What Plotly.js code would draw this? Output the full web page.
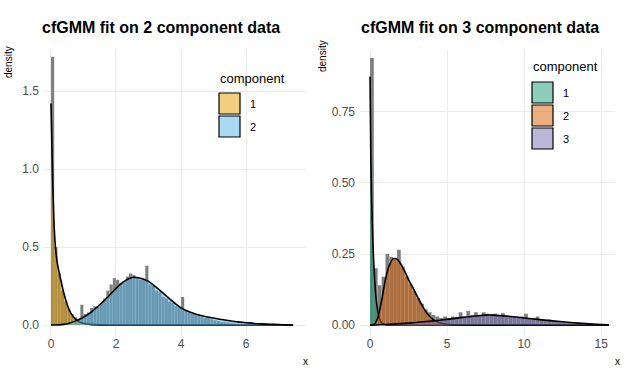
<!DOCTYPE html>
<html>
<head>
<meta charset="utf-8">
<script src="https://cdn.plot.ly/plotly-3.0.1.min.js"></script>
<style>
  html, body { margin: 0; padding: 0; background: #fff; }
  #plot { width: 624px; height: 384px; }
</style>
</head>
<body>
<div id="plot"></div>
<script>
// ---- left panel: 2 component data ----
var hist2X = [0.05,0.15,0.25,0.35,0.45,0.55,0.65,0.75,0.85,0.95,1.05,1.15,1.25,1.35,1.45,1.55,1.65,1.75,1.85,1.95,
  2.05,2.15,2.25,2.35,2.45,2.55,2.65,2.75,2.85,2.95,3.05,3.15,3.25,3.35,3.45,3.55,3.65,3.75,3.85,3.95,
  4.05,4.15,4.25,4.35,4.45,4.55,4.65,4.75,4.85,4.95,5.05,5.15,5.25,5.35,5.45,5.55,5.65,5.75,5.85,5.95,6.05,6.15];
var hist2Y = [1.72,0.50,0.33,0.22,0.15,0.10,0.07,0.05,0.04,0.13,0.07,0.08,0.11,0.12,0.12,0.14,0.17,0.22,0.26,0.30,
  0.29,0.27,0.28,0.31,0.33,0.32,0.30,0.29,0.29,0.38,0.26,0.25,0.22,0.21,0.18,0.17,0.15,0.14,0.12,0.11,
  0.18,0.09,0.08,0.07,0.07,0.065,0.05,0.045,0.05,0.035,0.03,0.025,0.02,0.02,0.015,0.012,0.01,0.008,0.006,0.005,0.004,0.008];

var comp2aX = [0,0.05,0.1,0.15,0.2,0.3,0.4,0.5,0.6,0.7,0.8,0.9,1.0,1.2,1.5,2,3,4,5,6,7,7.45];
var comp2aY = [1.42,0.95,0.62,0.47,0.39,0.29,0.20,0.13,0.08,0.05,0.03,0.018,0.011,0.004,0.001,0,0,0,0,0,0,0];

var comp2bX = [0,0.25,0.5,0.75,1.0,1.25,1.5,1.75,2.0,2.25,2.5,2.75,3.0,3.25,3.5,3.75,4.0,4.25,4.5,4.75,
  5.0,5.25,5.5,5.75,6.0,6.25,6.5,6.75,7.0,7.25,7.45];
var comp2bY = [0,0.001,0.008,0.025,0.05,0.085,0.13,0.18,0.235,0.28,0.305,0.30,0.28,0.24,0.195,0.15,0.11,0.085,0.068,0.055,
  0.045,0.035,0.027,0.02,0.015,0.01,0.007,0.005,0.003,0.001,0];

// ---- right panel: 3 component data ----
var hist3X = [0.125,0.375,0.625,0.875,1.125,1.375,1.625,1.875,2.125,2.375,2.625,2.875,3.125,3.375,3.625,3.875,
  4.125,4.375,4.625,4.875,5.125,5.375,5.625,5.875,6.125,6.375,6.625,6.875,7.125,7.375,7.625,7.875,
  8.125,8.375,8.625,8.875,9.125,9.375,9.625,9.875,10.125,10.375,10.625,10.875,11.125,11.375,11.625,11.875,
  12.125,12.375,12.625,12.875,13.125,13.375,13.625,13.875,14.125,14.375,14.625,14.875,15.125];
var hist3Y = [0.94,0.20,0.14,0.17,0.25,0.24,0.23,0.265,0.205,0.17,0.145,0.12,0.095,0.075,0.055,0.045,
  0.035,0.03,0.025,0.03,0.025,0.03,0.028,0.045,0.03,0.05,0.035,0.045,0.035,0.045,0.04,0.038,
  0.04,0.035,0.042,0.03,0.03,0.028,0.025,0.03,0.04,0.022,0.025,0.03,0.018,0.015,0.02,0.012,
  0.012,0.01,0.009,0.008,0.006,0.005,0.006,0.004,0.003,0.004,0.002,0.002,0.001];

var comp3aX = [0,0.05,0.1,0.2,0.3,0.4,0.5,0.6,0.7,0.8,1.0,1.3,2,5,10,15.5];
var comp3aY = [0.875,0.6,0.45,0.27,0.16,0.09,0.05,0.025,0.012,0.005,0.001,0,0,0,0,0];

var comp3bX = [0,0.25,0.5,0.75,1.0,1.25,1.5,1.75,2.0,2.25,2.5,2.75,3.0,3.25,3.5,3.75,4.0,4.25,4.5,5,5.5,6,10,15.5];
var comp3bY = [0,0.002,0.025,0.085,0.16,0.21,0.233,0.232,0.215,0.19,0.16,0.135,0.108,0.082,0.058,0.038,0.024,0.014,0.008,0.003,0.001,0,0,0];

var comp3cX = [0,1,2,3,4,5,6,7,7.5,8,9,10,11,12,13,14,15,15.5];
var comp3cY = [0,0.002,0.005,0.009,0.014,0.02,0.027,0.033,0.035,0.035,0.031,0.025,0.019,0.014,0.009,0.005,0.002,0.001];

var legendLabels2 = ['1', '2'];
var legendLabels3 = ['1', '2', '3'];
var fills2 = ['rgba(230,159,0,0.5)', 'rgba(86,180,233,0.5)'];
var fills3 = ['rgba(27,158,119,0.5)', 'rgba(217,95,2,0.5)', 'rgba(117,112,179,0.5)'];

var W = 624, H = 384;
function px(x) { return x / W; }
function py(y) { return 1 - y / H; }

function histTrace(x, y, xa, ya, w) {
    return { type: 'bar', x: x, y: y, width: w, xaxis: xa, yaxis: ya,
        marker: { color: '#7f7f7f', line: { width: 0 } }, hoverinfo: 'skip', showlegend: false };
}
function densTrace(x, y, fill, xa, ya) {
    return { type: 'scatter', mode: 'lines', x: x, y: y, xaxis: xa, yaxis: ya,
        fill: 'tozeroy', fillcolor: fill,
        line: { color: '#000', width: 1.6, shape: 'spline', smoothing: 0.7 },
        hoverinfo: 'skip', showlegend: false };
}

var data = [
    histTrace(hist2X, hist2Y, 'x', 'y', 0.096),
    densTrace(comp2aX, comp2aY, fills2[0], 'x', 'y'),
    densTrace(comp2bX, comp2bY, fills2[1], 'x', 'y'),
    histTrace(hist3X, hist3Y, 'x2', 'y2', 0.24),
    densTrace(comp3aX, comp3aY, fills3[0], 'x2', 'y2'),
    densTrace(comp3bX, comp3bY, fills3[1], 'x2', 'y2'),
    densTrace(comp3cX, comp3cY, fills3[2], 'x2', 'y2')
];

var tickFont = { family: 'Liberation Sans, Arial, sans-serif', size: 12, color: '#4d4d4d' };
function axisBase() {
    return { showline: false, zeroline: false, ticks: '', showgrid: true,
        gridcolor: '#ebebeb', gridwidth: 1, tickfont: tickFont, automargin: false, fixedrange: true };
}

var xaxis = Object.assign(axisBase(), { domain: [px(44), px(305)], range: [-0.215, 7.815],
    tickvals: [0, 2, 4, 6], anchor: 'y' });
var yaxis = Object.assign(axisBase(), { domain: [py(335), py(50)], range: [-0.064, 1.763],
    tickvals: [0, 0.5, 1, 1.5], tickformat: '.1f', anchor: 'x', ticklabelstandoff: 4 });
var xaxis2 = Object.assign(axisBase(), { domain: [px(360), px(615)], range: [-0.65, 15.9],
    tickvals: [0, 5, 10, 15], anchor: 'y2' });
var yaxis2 = Object.assign(axisBase(), { domain: [py(335), py(50)], range: [-0.035, 0.968],
    tickvals: [0, 0.25, 0.5, 0.75], tickformat: '.2f', anchor: 'x2', ticklabelstandoff: 4 });

var annotations = [];
var shapes = [];
function note(text, x, y, size, opts) {
    annotations.push(Object.assign({ text: text, xref: 'paper', yref: 'paper', x: px(x), y: py(y),
        xanchor: 'center', yanchor: 'middle',
        showarrow: false, font: { family: 'Liberation Sans, Arial, sans-serif', size: size, color: '#000' } }, opts || {}));
}
note('<b>cfGMM fit on 2 component data</b>', 161, 27, 16);
note('<b>cfGMM fit on 3 component data</b>', 480, 27, 16);
note('density', 8, 62, 10, { textangle: -90 });
note('density', 322, 56, 10, { textangle: -90 });
note('x', 305, 361, 10);
note('x', 617, 361, 10);

function legendBlock(title, labels, fills, x0, yTitle, yFirst) {
    note(title, x0, yTitle, 13, { xanchor: 'left' });
    for (var i = 0; i < labels.length; i++) {
        var top = yFirst + i * 23;
        shapes.push({ type: 'rect', xref: 'paper', yref: 'paper',
            x0: px(x0 + 1), x1: px(x0 + 22), y0: py(top + 21), y1: py(top),
            fillcolor: fills[i], line: { color: '#000', width: 1.2 } });
        note(labels[i], x0 + 30, top + 11, 11, { xanchor: 'left' });
    }
}
legendBlock('component', legendLabels2, fills2, 218, 78, 93);
legendBlock('component', legendLabels3, fills3, 531, 66, 82);

var layout = {
    width: W, height: H,
    margin: { l: 0, r: 0, t: 0, b: 0 },
    paper_bgcolor: '#fff', plot_bgcolor: '#fff',
    showlegend: false,
    xaxis: xaxis, yaxis: yaxis, xaxis2: xaxis2, yaxis2: yaxis2,
    annotations: annotations,
    shapes: shapes
};

Plotly.newPlot('plot', data, layout, { displayModeBar: false, staticPlot: true });
</script>
</body>
</html>
